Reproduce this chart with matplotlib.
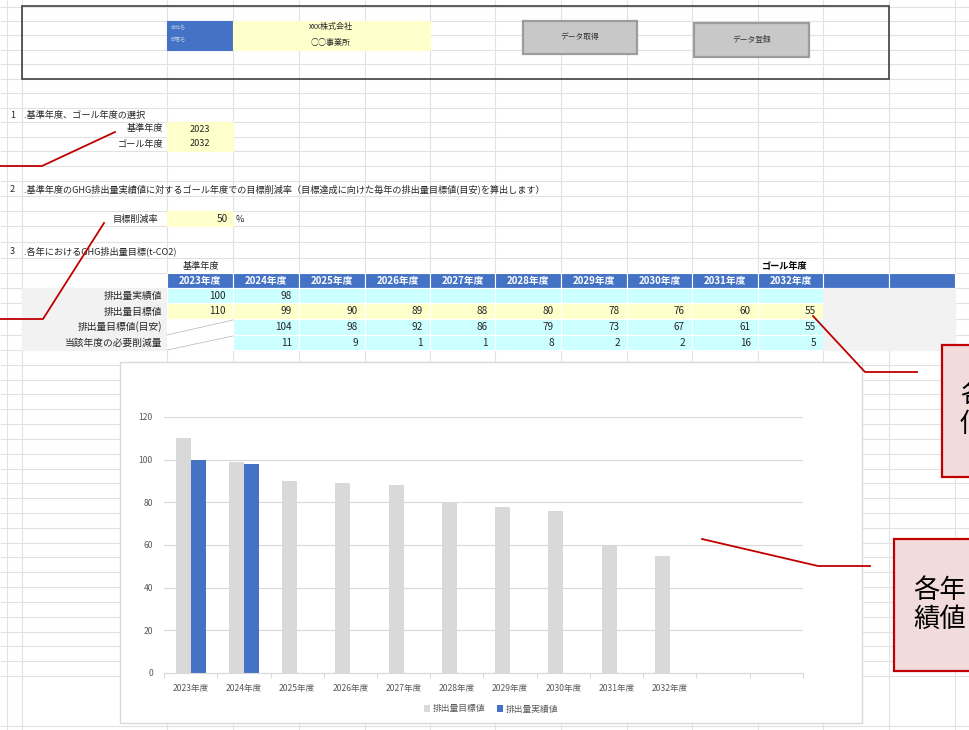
import numpy as np
import matplotlib
matplotlib.use('Agg')
import matplotlib.pyplot as plt
from matplotlib.patches import Rectangle

plt.rcParams['font.family'] = ['Noto Sans CJK JP', 'DejaVu Sans']

# シートの値
years = ['2023年度', '2024年度', '2025年度', '2026年度', '2027年度',
         '2028年度', '2029年度', '2030年度', '2031年度', '2032年度']
chart_labels = years + ['', '']
target = [110, 99, 90, 89, 88, 80, 78, 76, 60, 55]   # 排出量目標値
actual = [100, 98]                                    # 排出量実績値
guide = [104, 98, 92, 86, 79, 73, 67, 61, 55]         # 排出量目標値(目安) 2024~
need = [11, 9, 1, 1, 8, 2, 2, 16, 5]                  # 当該年度の必要削減量 2024~
row_labels = ['排出量実績値', '排出量目標値', '排出量目標値(目安)', '当該年度の必要削減量']
base_year = 2023
goal_year = 2032
rate = 50
company = 'xxx株式会社'
office = '○○事業所'

BLUE = '#4472c4'
CYAN = '#ccffff'
YELLOW = '#ffffcc'
LGRAY = '#f2f2f2'
BARGRAY = '#d9d9d9'
RED = '#c00000'
TXT = '#262626'

fig = plt.figure(figsize=(9.7, 7.3), dpi=100)
bg = fig.add_axes([0, 0, 1, 1])
bg.set_xlim(0, 970)
bg.set_ylim(730, 0)
bg.axis('off')

# セルの枠線
cols = [7, 22, 167, 233, 299, 365, 430, 495, 561, 627, 692, 758, 823, 889, 955]
rows = [7, 21, 35, 50, 64, 79, 93, 108, 122, 137, 151, 166, 181, 196, 211,
        226, 242, 258, 273, 288, 303, 319, 335, 350]
rows = rows + list(np.linspace(350, 676, 23)[1:]) + [726]
bg.vlines(cols, 0, 730, color='#e2e2e2', lw=0.8, zorder=0)
bg.hlines(rows, 0, 970, color='#e2e2e2', lw=0.8, zorder=0)


def cell(x0, x1, y0, y1, fc, ec='white', lw=0.8):
    bg.add_patch(Rectangle((x0, y0), x1 - x0, y1 - y0, fc=fc, ec=ec, lw=lw, zorder=1))


def put(x, y, s, size=7.2, ha='left', color=TXT, **kw):
    bg.text(x, y, s, fontsize=size, ha=ha, va='center', color=color, zorder=3, **kw)


# ヘッダー部
bg.add_patch(Rectangle((22, 6), 867, 73, fc='none', ec='#404040', lw=1.2, zorder=2))
cell(167, 233, 21, 50, BLUE, ec=BLUE)
cell(233, 430, 21, 50, YELLOW, ec=YELLOW)
put(171, 28, '会社名', size=3.6, color='#b4c7e7')
put(171, 40, '部署名', size=3.6, color='#b4c7e7')
put(331, 27, company, size=5.8, ha='center')
put(331, 42, office, size=5.8, ha='center')
for x0, x1, y0, y1, s in [(523, 637, 21, 54, 'データ取得'), (694, 809, 23, 57, 'データ登録')]:
    bg.add_patch(Rectangle((x0, y0), x1 - x0, y1 - y0, fc='#c8c8c8', ec='#9c9c9c', lw=1.6, zorder=2))
    put((x0 + x1) / 2, (y0 + y1) / 2, s, size=5.6, ha='center', color='#333333')

# 1. 基準年度、ゴール年度
put(10, 115, '1', size=6.6)
put(22, 115, ' .基準年度、ゴール年度の選択', size=6.6)
cell(167, 233, 122, 151, YELLOW, ec=YELLOW)
put(163, 129, '基準年度', size=6.6, ha='right')
put(163, 144, 'ゴール年度', size=6.6, ha='right')
put(200, 129, str(base_year), size=6.6, ha='center')
put(200, 144, str(goal_year), size=6.6, ha='center')

# 2. 目標削減率
put(10, 189, '2', size=6.6)
put(22, 189, ' .基準年度のGHG排出量実績値に対するゴール年度での目標削減率（目標達成に向けた毎年の排出量目標値(目安)を算出します）', size=6.6)
cell(167, 233, 211, 226, YELLOW, ec=YELLOW)
put(158, 219, '目標削減率', size=6.6, ha='right')
put(228, 219, str(rate), size=7.2, ha='right')
put(236, 219, '%', size=6.6)

# 3. 各年の表
put(10, 251, '3', size=6.6)
put(22, 251, ' .各年におけるGHG排出量目標(t-CO2)', size=6.6)
put(201, 266, '基準年度', size=6.6, ha='center')
put(785, 266, 'ゴール年度', size=6.6, ha='center', fontweight='bold', color='black')

tc = cols[2:]
cell(22, 167, 288, 350, LGRAY, ec=LGRAY)
for k, lab in enumerate(row_labels):
    put(162, 296 + k * 15.5, lab, size=7.0, ha='right')
for i in range(12):
    x0, x1 = tc[i], tc[i + 1]
    cell(x0, x1, 273, 288, BLUE)
    if i < len(years):
        put((x0 + x1) / 2, 281, years[i], size=7.0, ha='center', color='white', fontweight='bold')
    if i >= len(target):
        cell(x0, x1, 288, 350, LGRAY, ec=LGRAY)
        continue
    cell(x0, x1, 288, 303, CYAN)
    cell(x0, x1, 303, 319, YELLOW)
    if i < len(actual):
        put(x1 - 7, 296, str(actual[i]), ha='right')
    put(x1 - 7, 311.5, str(target[i]), ha='right')
    if i == 0:
        cell(x0, x1, 319, 350, 'white')
        bg.plot([x0, x1], [335, 320], color='#bfbfbf', lw=0.6, zorder=2)
        bg.plot([x0, x1], [350, 336], color='#bfbfbf', lw=0.6, zorder=2)
    else:
        cell(x0, x1, 319, 335, CYAN)
        cell(x0, x1, 335, 350, CYAN)
        put(x1 - 7, 327.5, str(guide[i - 1]), ha='right')
        put(x1 - 7, 343, str(need[i - 1]), ha='right')

# グラフ
bg.add_patch(Rectangle((120, 362), 742, 361, fc='white', ec='#d9d9d9', lw=1.0, zorder=4))
ax = fig.add_axes([164 / 970, (730 - 673) / 730, 639 / 970, 256 / 730])
ax.set_facecolor('none')
x = np.arange(len(chart_labels))
w = 0.28
b1 = ax.bar(x[:len(target)] - w / 2, target, w, color=BARGRAY, label='排出量目標値')
b2 = ax.bar(x[:len(actual)] + w / 2, actual, w, color=BLUE, label='排出量実績値')
ax.set_xlim(-0.5, len(chart_labels) - 0.5)
ax.set_ylim(0, 120)
ax.set_yticks(range(0, 121, 20))
ax.yaxis.grid(True, color='#d9d9d9', lw=0.8)
ax.set_axisbelow(True)
for s in ['top', 'right', 'left']:
    ax.spines[s].set_visible(False)
ax.spines['bottom'].set_color('#d9d9d9')
ax.spines['bottom'].set_linewidth(0.8)
ax.set_xticks(x)
ax.set_xticklabels(chart_labels)
ax.set_xticks(np.arange(len(chart_labels) + 1) - 0.5, minor=True)
ax.tick_params(axis='x', which='major', length=0, pad=8, labelsize=6.2, labelcolor='#595959')
ax.tick_params(axis='x', which='minor', length=3.5, width=0.8, color='#d9d9d9')
ax.tick_params(axis='y', length=0, pad=8, labelsize=6.2, labelcolor='#595959')
fig.legend(handles=[b1, b2], loc='center', bbox_to_anchor=(491 / 970, 21 / 730), ncol=2,
           frameon=False, fontsize=6.3, handlelength=0.7, handleheight=0.7,
           handletextpad=0.3, columnspacing=1.3, labelcolor='#595959')

# 吹き出し(右端で切れている)
top = fig.add_axes([0, 0, 1, 1])
top.set_xlim(0, 970)
top.set_ylim(730, 0)
top.axis('off')
top.set_facecolor('none')
for xs, ys in [([115, 42, 0], [132, 166, 166]),
               ([104, 43, 0], [223, 319, 319]),
               ([813, 865, 917], [316, 372, 372]),
               ([702, 818, 870], [539, 566, 566])]:
    top.plot(xs, ys, color=RED, lw=1.3, clip_on=False)
top.add_patch(Rectangle((942, 345), 80, 132, fc='#f2dcdb', ec=RED, lw=1.6))
top.add_patch(Rectangle((894, 539), 120, 132, fc='#f2dcdb', ec=RED, lw=1.6))
top.text(960, 395, '各', fontsize=19, va='center', color='black')
top.text(960, 425, '値', fontsize=19, va='center', color='black')
top.text(913, 590, '各年', fontsize=19, va='center', color='black')
top.text(913, 619, '績値', fontsize=19, va='center', color='black')

fig.savefig('out.png', dpi=100)
